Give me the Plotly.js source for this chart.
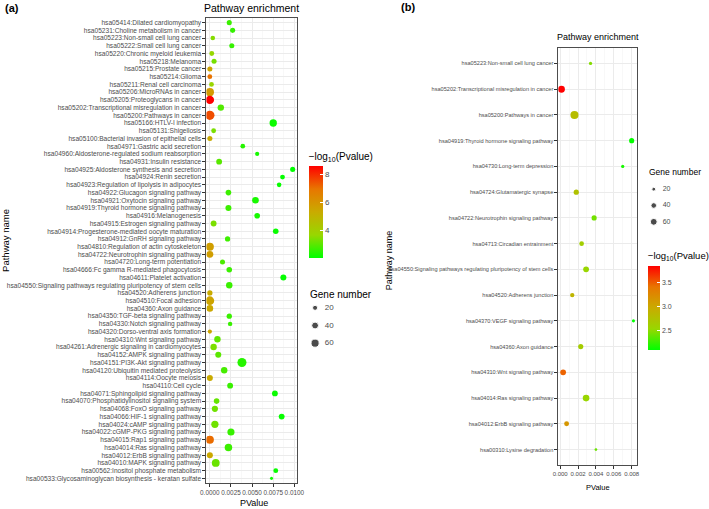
<!DOCTYPE html>
<html><head><meta charset="utf-8">
<script src="https://cdn.plot.ly/plotly-3.0.1.min.js"></script>
<style>html,body{margin:0;padding:0;background:#fff}#chart{width:709px;height:509px}</style>
</head><body><div id="chart"></div>
<script>
// ---------- Panel (a) data ----------
const pathwaysA = [
"hsa05414:Dilated cardiomyopathy","hsa05231:Choline metabolism in cancer","hsa05223:Non-small cell lung cancer",
"hsa05222:Small cell lung cancer","hsa05220:Chronic myeloid leukemia","hsa05218:Melanoma","hsa05215:Prostate cancer",
"hsa05214:Glioma","hsa05211:Renal cell carcinoma","hsa05206:MicroRNAs in cancer","hsa05205:Proteoglycans in cancer",
"hsa05202:Transcriptional misregulation in cancer","hsa05200:Pathways in cancer","hsa05166:HTLV-I infection",
"hsa05131:Shigellosis","hsa05100:Bacterial invasion of epithelial cells","hsa04971:Gastric acid secretion",
"hsa04960:Aldosterone-regulated sodium reabsorption","hsa04931:Insulin resistance","hsa04925:Aldosterone synthesis and secretion",
"hsa04924:Renin secretion","hsa04923:Regulation of lipolysis in adipocytes","hsa04922:Glucagon signaling pathway",
"hsa04921:Oxytocin signaling pathway","hsa04919:Thyroid hormone signaling pathway","hsa04916:Melanogenesis",
"hsa04915:Estrogen signaling pathway","hsa04914:Progesterone-mediated oocyte maturation","hsa04912:GnRH signaling pathway",
"hsa04810:Regulation of actin cytoskeleton","hsa04722:Neurotrophin signaling pathway","hsa04720:Long-term potentiation",
"hsa04666:Fc gamma R-mediated phagocytosis","hsa04611:Platelet activation","hsa04550:Signaling pathways regulating pluripotency of stem cells",
"hsa04520:Adherens junction","hsa04510:Focal adhesion","hsa04360:Axon guidance","hsa04350:TGF-beta signaling pathway",
"hsa04330:Notch signaling pathway","hsa04320:Dorso-ventral axis formation","hsa04310:Wnt signaling pathway",
"hsa04261:Adrenergic signaling in cardiomyocytes","hsa04152:AMPK signaling pathway","hsa04151:PI3K-Akt signaling pathway",
"hsa04120:Ubiquitin mediated proteolysis","hsa04114:Oocyte meiosis","hsa04110:Cell cycle","hsa04071:Sphingolipid signaling pathway",
"hsa04070:Phosphatidylinositol signaling system","hsa04068:FoxO signaling pathway","hsa04066:HIF-1 signaling pathway",
"hsa04024:cAMP signaling pathway","hsa04022:cGMP-PKG signaling pathway","hsa04015:Rap1 signaling pathway",
"hsa04014:Ras signaling pathway","hsa04012:ErbB signaling pathway","hsa04010:MAPK signaling pathway",
"hsa00562:Inositol phosphate metabolism","hsa00533:Glycosaminoglycan biosynthesis - keratan sulfate"];
const pvalueA = [
0.0023,0.0027,0.00035,0.0026,0.00023,0.0005,3e-6,1e-7,0.0002,1.5e-6,2.5e-9,0.0013,3e-8,0.0075,0.00045,5e-6,0.0039,0.0056,0.0011,0.0098,
0.0086,0.0082,0.0022,0.0054,0.0022,0.0056,0.00045,0.0078,0.0021,2e-6,2e-6,0.0015,0.0023,0.0087,0.0023,5e-6,3e-6,4e-6,0.0023,0.0024,
3e-6,0.0009,0.00045,0.001,0.0038,0.0017,5e-6,0.0024,0.0077,0.0008,0.0006,0.0085,0.0006,0.0025,8e-8,0.0022,4e-6,0.0007,0.0078,0.0073];
const genesA = [
20,20,16,20,18,20,20,18,17,62,66,35,82,48,18,20,17,13,28,20,
18,16,26,38,30,26,28,25,22,58,42,20,25,30,35,22,70,38,22,15,
13,35,35,30,76,35,30,28,28,25,32,28,46,45,60,50,30,55,18,7];

// ---------- Panel (b) data ----------
const pathwaysB = [
"hsa05223:Non-small cell lung cancer","hsa05202:Transcriptional misregulation in cancer","hsa05200:Pathways in cancer",
"hsa04919:Thyroid hormone signaling pathway","hsa04730:Long-term depression","hsa04724:Glutamatergic synapse",
"hsa04722:Neurotrophin signaling pathway","hsa04713:Circadian entrainment","hsa04550:Signaling pathways regulating pluripotency of stem cells",
"hsa04520:Adherens junction","hsa04370:VEGF signaling pathway","hsa04360:Axon guidance","hsa04310:Wnt signaling pathway",
"hsa04014:Ras signaling pathway","hsa04012:ErbB signaling pathway","hsa00310:Lysine degradation"];
const pvalueB = [0.0034,0.00014,0.0016,0.0080,0.0070,0.0018,0.0038,0.0024,0.0029,0.00135,0.0082,0.0023,0.00033,0.0029,0.00072,0.0040];
const genesB = [16,62,85,34,16,34,34,28,42,25,15,34,42,56,31,13];

const legendGenes = [20,40,60];
const tickValsA = [0,0.0025,0.005,0.0075,0.01];
const tickValsB = [0,0.002,0.004,0.006,0.008];

// ---------- helpers ----------
const W=709,H=509;
const px=v=>v/W, py=v=>1-v/H;
const FONT="'Liberation Sans',Arial,sans-serif";
const neglog = arr=>arr.map(p=>-Math.log10(p));
// area-style size scale (like ggplot scale_size): diameter grows with sqrt of count
function sizer(lo,hi,k){return v=>k*(1+5*Math.sqrt(Math.max(0,(v-lo))/(hi-lo)));}
const sizeA=sizer(4,82,1.55), sizeB=sizer(10,85,1.35);
const cscale=[[0,'#00FF00'],[0.25,'rgb(152,215,0)'],[0.5,'rgb(201,171,0)'],[0.75,'rgb(232,118,0)'],[1,'#FF0000']];

const traces=[
 {type:'scatter',mode:'markers',x:pvalueA,y:pathwaysA,xaxis:'x',yaxis:'y',
  marker:{size:genesA.map(sizeA),color:neglog(pvalueA),colorscale:cscale,opacity:1,line:{width:0},
   showscale:true,colorbar:{x:px(314),xanchor:'left',y:py(149),yanchor:'top',lenmode:'pixels',len:109,
    thickness:14,thicknessmode:'pixels',xpad:0,ypad:0,outlinewidth:0,dtick:2,tick0:0,ticks:'inside',ticklen:3,tickcolor:'#fff',
    tickfont:{family:FONT,size:8,color:'#4D4D4D'},
    title:{text:'−log<sub>10</sub>(Pvalue)',side:'top',font:{family:FONT,size:10,color:'#000'}}}},hoverinfo:'x+y'},
 {type:'scatter',mode:'markers',x:pvalueB,y:pathwaysB,xaxis:'x2',yaxis:'y2',
  marker:{size:genesB.map(sizeB),color:neglog(pvalueB),colorscale:cscale,opacity:1,line:{width:0},
   showscale:true,colorbar:{x:px(659),xanchor:'left',y:py(249),yanchor:'top',lenmode:'pixels',len:101,
    thickness:12,thicknessmode:'pixels',xpad:0,ypad:0,outlinewidth:0,dtick:0.5,tick0:0,tickformat:'.1f',ticks:'inside',ticklen:3,tickcolor:'#fff',
    tickfont:{family:FONT,size:7,color:'#4D4D4D'},
    title:{text:'−log<sub>10</sub>(Pvalue)',side:'top',font:{family:FONT,size:9.5,color:'#000'}}}},hoverinfo:'x+y'},
 // size legends
 {type:'scatter',mode:'markers',x:legendGenes.map(()=>6.5),y:legendGenes.map((g,i)=>i),xaxis:'x3',yaxis:'y3',
  marker:{size:legendGenes.map(sizeA),color:'#000'},hoverinfo:'skip'},
 {type:'scatter',mode:'text',x:legendGenes.map(()=>21),y:legendGenes.map((g,i)=>i),text:legendGenes.map(String),xaxis:'x3',yaxis:'y3',
  textfont:{family:FONT,size:8,color:'#4D4D4D'},textposition:'middle center',hoverinfo:'skip'},
 {type:'scatter',mode:'markers',x:legendGenes.map(()=>6),y:legendGenes.map((g,i)=>i),xaxis:'x4',yaxis:'y4',
  marker:{size:legendGenes.map(sizeB),color:'#000'},hoverinfo:'skip'},
 {type:'scatter',mode:'text',x:legendGenes.map(()=>19),y:legendGenes.map((g,i)=>i),text:legendGenes.map(String),xaxis:'x4',yaxis:'y4',
  textfont:{family:FONT,size:7,color:'#4D4D4D'},textposition:'middle center',hoverinfo:'skip'}
];

function xax(dom,range,tv,fmt,minor,fs){return {domain:dom,range:range,tickmode:'array',tickvals:tv,tickformat:fmt,tickangle:0,
  ticks:'outside',ticklen:3,tickcolor:'#333',tickwidth:1,tickfont:{family:FONT,size:fs,color:'#4D4D4D'},
  showline:true,mirror:true,linecolor:'#4D4D4D',linewidth:1,
  showgrid:true,gridcolor:'#EBEBEB',gridwidth:1,zeroline:false,
  minor:{dtick:minor,tick0:0,showgrid:true,gridcolor:'#F3F3F3',gridwidth:0.6,ticks:''}};}
function yax(dom,cats,fs){return {domain:dom,type:'category',categoryorder:'array',categoryarray:cats,
  tickmode:'array',tickvals:cats,ticktext:cats,
  range:[cats.length-1+0.6,-0.6],ticks:'outside',ticklen:3,tickcolor:'#333',tickwidth:1,
  tickfont:{family:FONT,size:fs,color:'#4D4D4D'},showline:true,mirror:true,linecolor:'#4D4D4D',linewidth:1,
  showgrid:true,gridcolor:'#EBEBEB',gridwidth:1,zeroline:false};}

const xa=xax([px(210),px(302)],[-0.0004,0.0103],tickValsA,'.4f',0.00125,6.4); xa.anchor='y';
const ya=yax([py(483),py(18)],pathwaysA,6.6); ya.anchor='x';
const xb=xax([px(568),px(648)],[-0.0002,0.0086],tickValsB,'.3f',0.001,6); xb.anchor='y2';
const yb=yax([py(465),py(48)],pathwaysB,5.6); yb.anchor='x2';
const hid={showgrid:false,zeroline:false,showline:false,showticklabels:false,ticks:'',fixedrange:true};

function ann(text,x,y,size,opts){return Object.assign({text:text,xref:'paper',yref:'paper',x:px(x),y:py(y),
  xanchor:'center',yanchor:'middle',showarrow:false,font:{family:FONT,size:size,color:'#000'}},opts||{});}

const layout={width:W,height:H,margin:{l:0,r:0,t:0,b:0},paper_bgcolor:'#fff',plot_bgcolor:'#fff',showlegend:false,
 font:{family:FONT},
 xaxis:xa,yaxis:ya,xaxis2:xb,yaxis2:yb,
 xaxis3:Object.assign({domain:[px(314),px(354)],range:[0,40],anchor:'y3'},hid),
 yaxis3:Object.assign({domain:[py(352),py(299)],range:[2.5,-0.5],anchor:'x3'},hid),
 xaxis4:Object.assign({domain:[px(659),px(699)],range:[0,40],anchor:'y4'},hid),
 yaxis4:Object.assign({domain:[py(230),py(181)],range:[2.5,-0.5],anchor:'x4'},hid),
 annotations:[
  ann('<b>(a)</b>',3,8,11,{xanchor:'left'}),
  ann('<b>(b)</b>',406,7,11,{xanchor:'left'}),
  ann('Pathway enrichment',256,8,10.5),
  ann('Pathway enrichment',608,37,9),
  ann('PValue',258,503,9),
  ann('PValue',608,487,7.5),
  ann('Pathway name',5,240,9.5,{textangle:-90}),
  ann('Pathway name',396,260,9,{textangle:-90}),
  ann('Gene number',313,294,10,{xanchor:'left'}),
  ann('Gene number',658,172,8.5,{xanchor:'left'})
 ]};
Plotly.newPlot('chart',traces,layout,{staticPlot:true,displayModeBar:false});
</script></body></html>
